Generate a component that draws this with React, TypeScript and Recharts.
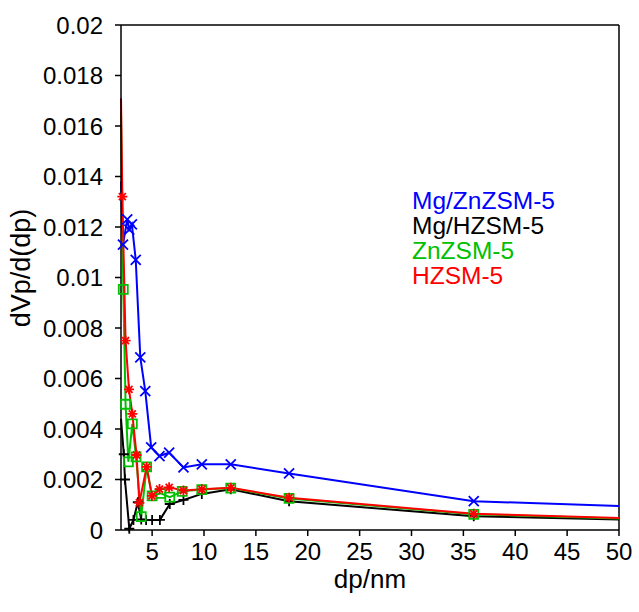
import React from 'react';
import { LineChart, Line, XAxis, YAxis, ReferenceLine, Label } from 'recharts';

const FONT = 'Arial, "Liberation Sans", sans-serif';

// pore size (nm) and dVp/d(dp)
const mgZnX = [2.0, 2.19, 2.6, 2.8, 3.05, 3.42, 3.86, 4.34, 4.91, 5.71, 6.64, 8.02, 9.79, 12.58, 18.2, 36.0, 50.0];
const mgZnY = [0.0138, 0.0113, 0.0123, 0.0119, 0.0121, 0.0107, 0.00684, 0.0055, 0.00327, 0.00293, 0.00306, 0.00248, 0.0026, 0.0026, 0.00224, 0.00114, 0.00095];

const mgHX = [2.0, 2.27, 2.38, 2.8, 3.2, 3.62, 3.95, 4.42, 5.0, 5.75, 6.7, 8.02, 9.79, 12.58, 18.2, 36.0, 50.0];
const mgHY = [0.0044, 0.003, 0.002, 0.00005, 0.0004, 0.0011, 0.00042, 0.0004, 0.0004, 0.0004, 0.00103, 0.00119, 0.00143, 0.00161, 0.00114, 0.00054, 0.00042];

const znX = [2.0, 2.22, 2.44, 2.71, 3.09, 3.45, 3.95, 4.47, 5.0, 5.83, 6.7, 7.9, 9.79, 12.58, 18.2, 36.0, 50.0];
const znY = [0.0165, 0.00953, 0.00498, 0.0027, 0.0042, 0.0029, 0.00053, 0.0025, 0.00135, 0.00145, 0.0013, 0.00153, 0.0016, 0.00166, 0.00125, 0.00062, 0.00046];

const hX = [2.0, 2.13, 2.44, 2.77, 3.09, 3.5, 3.77, 4.47, 4.98, 5.71, 6.64, 8.02, 9.79, 12.58, 18.2, 36.0, 50.0];
const hY = [0.0171, 0.0132, 0.0075, 0.00557, 0.0046, 0.00297, 0.00108, 0.0025, 0.00135, 0.00162, 0.00169, 0.00156, 0.00161, 0.00167, 0.00128, 0.00064, 0.00048];

const xTicks = [5, 10, 15, 20, 25, 30, 35, 40, 45, 50];
const yTicks = [0, 0.002, 0.004, 0.006, 0.008, 0.01, 0.012, 0.014, 0.016, 0.018, 0.02];

const seriesNames = ['Mg/ZnZSM-5', 'Mg/HZSM-5', 'ZnZSM-5', 'HZSM-5'];
const colors = ['#0000ff', '#000000', '#00c000', '#ff0000'];

const toPoints = (xs: number[], ys: number[]) => xs.map((x, i) => ({ x, y: ys[i] }));

const mgZnData = toPoints(mgZnX, mgZnY);
const mgHData = toPoints(mgHX, mgHY);
const znData = toPoints(znX, znY);
const hData = toPoints(hX, hY);

type Shape = 'cross' | 'plus' | 'square' | 'star';

// markers; the end points at the axis edges only carry the line
const marker = (shape: Shape, color: string) => (props: any) => {
  const { cx, cy, index, payload } = props;
  if (payload.x <= 2 || payload.x >= 50) return <g key={`e-${index}`} />;
  const r = 5;
  let d = '';
  if (shape === 'cross') d = `M${cx - r},${cy - r}L${cx + r},${cy + r}M${cx - r},${cy + r}L${cx + r},${cy - r}`;
  if (shape === 'plus') d = `M${cx - r},${cy}L${cx + r},${cy}M${cx},${cy - r}L${cx},${cy + r}`;
  if (shape === 'star')
    d = `M${cx - r},${cy}L${cx + r},${cy}M${cx},${cy - r}L${cx},${cy + r}M${cx - 3.5},${cy - 3.5}L${cx + 3.5},${cy + 3.5}M${cx - 3.5},${cy + 3.5}L${cx + 3.5},${cy - 3.5}`;
  if (shape === 'square') d = `M${cx - 4.5},${cy - 4.5}h9v9h-9Z`;
  return <path key={`m-${index}`} d={d} stroke={color} strokeWidth={1.8} fill="none" />;
};

export default function App() {
  return (
    <div style={{ position: 'absolute', left: 0, top: 0, width: 639, height: 612, background: '#fff' }}>
      <LineChart
        width={639}
        height={612}
        margin={{ top: 25, right: 20, bottom: 0, left: 0 }}
        style={{ fontFamily: FONT }}
      >
        <XAxis
          type="number"
          dataKey="x"
          domain={[2, 50]}
          ticks={xTicks}
          height={82}
          stroke="#000"
          strokeWidth={1.5}
          tickSize={6}
          tickMargin={7}
          tick={{ fill: '#000', fontSize: 24, fontFamily: FONT }}
        >
          <Label
            content={() => (
              <text x={370} y={588} textAnchor="middle" fontSize={26} fontFamily={FONT} fill="#000">
                dp/nm
              </text>
            )}
          />
        </XAxis>
        <YAxis
          type="number"
          domain={[0, 0.02]}
          ticks={yTicks}
          width={121}
          stroke="#000"
          strokeWidth={1.5}
          tickSize={6}
          tickMargin={12}
          tick={{ fill: '#000', fontSize: 24, fontFamily: FONT }}
        >
          <Label
            content={() => (
              <text
                x={30}
                y={268}
                transform="rotate(-90 30 268)"
                textAnchor="middle"
                fontSize={27}
                fontFamily={FONT}
                fill="#000"
              >
                dVp/d(dp)
              </text>
            )}
          />
        </YAxis>
        <ReferenceLine y={0.02} stroke="#000" strokeWidth={1.5} />
        <ReferenceLine x={50} stroke="#000" strokeWidth={1.5} />
        <Line data={mgZnData} dataKey="y" name={seriesNames[0]} stroke={colors[0]} strokeWidth={2} dot={marker('cross', colors[0])} isAnimationActive={false} />
        <Line data={mgHData} dataKey="y" name={seriesNames[1]} stroke={colors[1]} strokeWidth={2} dot={marker('plus', colors[1])} isAnimationActive={false} />
        <Line data={znData} dataKey="y" name={seriesNames[2]} stroke={colors[2]} strokeWidth={2} dot={marker('square', colors[2])} isAnimationActive={false} />
        <Line data={hData} dataKey="y" name={seriesNames[3]} stroke={colors[3]} strokeWidth={2} dot={marker('star', colors[3])} isAnimationActive={false} />
      </LineChart>
      <div
        style={{
          position: 'absolute',
          left: 412,
          top: 188,
          fontFamily: FONT,
          fontSize: 24.5,
          lineHeight: '25px',
        }}
      >
        {seriesNames.map((n, i) => (
          <div key={n} style={{ color: colors[i] }}>{n}</div>
        ))}
      </div>
    </div>
  );
}
